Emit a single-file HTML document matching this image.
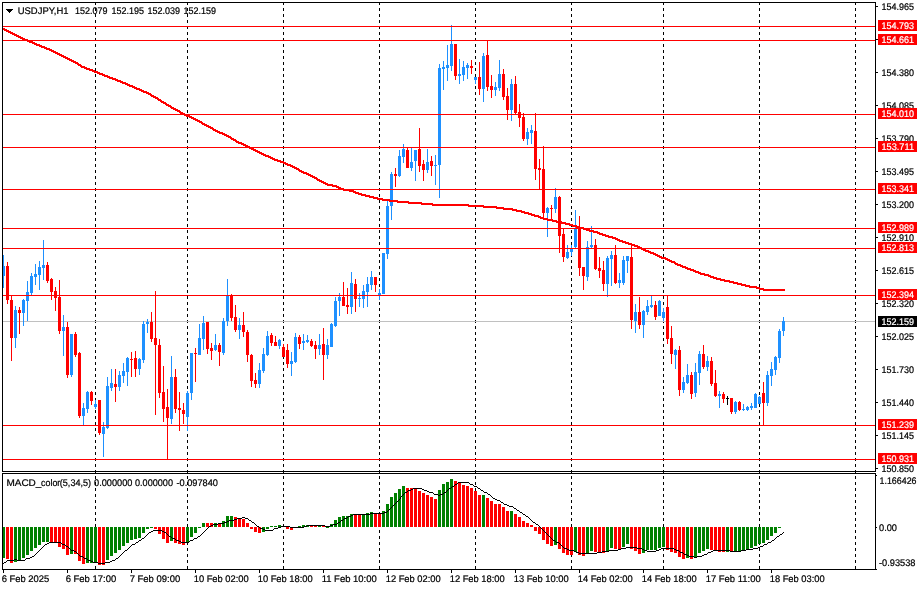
<!DOCTYPE html>
<html><head><meta charset="utf-8"><title>USDJPY,H1</title>
<style>
html,body{margin:0;padding:0;background:#fff;}
body{width:921px;height:590px;overflow:hidden;}
svg{display:block;}
.w{fill:#fff;stroke:#fff !important;}
.t{font-family:"Liberation Sans",sans-serif;font-size:9.6px;stroke:#000;stroke-width:0.22px;text-rendering:geometricPrecision;}
</style></head><body>
<svg width="921" height="590" viewBox="0 0 921 590" shape-rendering="crispEdges">
<rect width="921" height="590" fill="#fff"/>
<g stroke="#000" stroke-width="1" stroke-dasharray="3 3" fill="none">
<line x1="95.5" y1="2" x2="95.5" y2="570"/>
<line x1="187.5" y1="2" x2="187.5" y2="570"/>
<line x1="283.5" y1="2" x2="283.5" y2="570"/>
<line x1="379.5" y1="2" x2="379.5" y2="570"/>
<line x1="475.5" y1="2" x2="475.5" y2="570"/>
<line x1="571.5" y1="2" x2="571.5" y2="570"/>
<line x1="663.5" y1="2" x2="663.5" y2="570"/>
<line x1="759.5" y1="2" x2="759.5" y2="570"/>
<line x1="855.5" y1="2" x2="855.5" y2="570"/>
</g>
<rect x="3" y="321" width="873" height="1" fill="#C0C0C0"/>
<clipPath id="c"><rect x="3" y="3" width="872" height="468"/></clipPath>
<g clip-path="url(#c)">
<rect x="3" y="255" width="1" height="33" fill="#1E90FF"/>
<rect x="2" y="266" width="3" height="10" fill="#1E90FF"/>
<rect x="7" y="262" width="1" height="42" fill="#FF0000"/>
<rect x="6" y="266" width="3" height="34" fill="#FF0000"/>
<rect x="11" y="295" width="1" height="66" fill="#FF0000"/>
<rect x="10" y="300" width="3" height="38" fill="#FF0000"/>
<rect x="15" y="306" width="1" height="42" fill="#1E90FF"/>
<rect x="14" y="310" width="3" height="28" fill="#1E90FF"/>
<rect x="19" y="307" width="1" height="27" fill="#FF0000"/>
<rect x="18" y="310" width="3" height="3" fill="#FF0000"/>
<rect x="23" y="299" width="1" height="27" fill="#1E90FF"/>
<rect x="22" y="300" width="3" height="13" fill="#1E90FF"/>
<rect x="27" y="281" width="1" height="40" fill="#1E90FF"/>
<rect x="26" y="292" width="3" height="9" fill="#1E90FF"/>
<rect x="31" y="273" width="1" height="22" fill="#1E90FF"/>
<rect x="30" y="276" width="3" height="17" fill="#1E90FF"/>
<rect x="35" y="264" width="1" height="21" fill="#1E90FF"/>
<rect x="34" y="274" width="3" height="3" fill="#1E90FF"/>
<rect x="39" y="261" width="1" height="29" fill="#1E90FF"/>
<rect x="38" y="267" width="3" height="8" fill="#1E90FF"/>
<rect x="43" y="240" width="1" height="40" fill="#1E90FF"/>
<rect x="42" y="265" width="3" height="3" fill="#1E90FF"/>
<rect x="47" y="262" width="1" height="21" fill="#FF0000"/>
<rect x="46" y="265" width="3" height="16" fill="#FF0000"/>
<rect x="51" y="278" width="1" height="22" fill="#FF0000"/>
<rect x="50" y="279" width="3" height="13" fill="#FF0000"/>
<rect x="55" y="287" width="1" height="24" fill="#FF0000"/>
<rect x="54" y="291" width="3" height="7" fill="#FF0000"/>
<rect x="59" y="280" width="1" height="54" fill="#FF0000"/>
<rect x="58" y="297" width="3" height="34" fill="#FF0000"/>
<rect x="63" y="315" width="1" height="41" fill="#1E90FF"/>
<rect x="62" y="327" width="3" height="4" fill="#1E90FF"/>
<rect x="67" y="322" width="1" height="56" fill="#FF0000"/>
<rect x="66" y="327" width="3" height="48" fill="#FF0000"/>
<rect x="71" y="334" width="1" height="43" fill="#1E90FF"/>
<rect x="70" y="334" width="3" height="41" fill="#1E90FF"/>
<rect x="75" y="332" width="1" height="25" fill="#FF0000"/>
<rect x="74" y="334" width="3" height="21" fill="#FF0000"/>
<rect x="79" y="352" width="1" height="66" fill="#FF0000"/>
<rect x="78" y="353" width="3" height="63" fill="#FF0000"/>
<rect x="83" y="403" width="1" height="23" fill="#1E90FF"/>
<rect x="82" y="408" width="3" height="8" fill="#1E90FF"/>
<rect x="87" y="391" width="1" height="22" fill="#1E90FF"/>
<rect x="86" y="392" width="3" height="17" fill="#1E90FF"/>
<rect x="91" y="391" width="1" height="14" fill="#FF0000"/>
<rect x="90" y="392" width="3" height="9" fill="#FF0000"/>
<rect x="95" y="400" width="1" height="9" fill="#1E90FF"/>
<rect x="94" y="404" width="3" height="3" fill="#1E90FF"/>
<rect x="99" y="400" width="1" height="35" fill="#FF0000"/>
<rect x="98" y="400" width="3" height="33" fill="#FF0000"/>
<rect x="103" y="422" width="1" height="35" fill="#1E90FF"/>
<rect x="102" y="427" width="3" height="7" fill="#1E90FF"/>
<rect x="107" y="377" width="1" height="52" fill="#1E90FF"/>
<rect x="106" y="386" width="3" height="42" fill="#1E90FF"/>
<rect x="111" y="369" width="1" height="22" fill="#1E90FF"/>
<rect x="110" y="383" width="3" height="5" fill="#1E90FF"/>
<rect x="115" y="369" width="1" height="33" fill="#FF0000"/>
<rect x="114" y="384" width="3" height="3" fill="#FF0000"/>
<rect x="119" y="371" width="1" height="20" fill="#1E90FF"/>
<rect x="118" y="375" width="3" height="12" fill="#1E90FF"/>
<rect x="123" y="363" width="1" height="20" fill="#1E90FF"/>
<rect x="122" y="371" width="3" height="5" fill="#1E90FF"/>
<rect x="127" y="357" width="1" height="29" fill="#1E90FF"/>
<rect x="126" y="358" width="3" height="14" fill="#1E90FF"/>
<rect x="131" y="352" width="1" height="25" fill="#FF0000"/>
<rect x="130" y="359" width="3" height="1" fill="#FF0000"/>
<rect x="135" y="351" width="1" height="26" fill="#FF0000"/>
<rect x="134" y="358" width="3" height="11" fill="#FF0000"/>
<rect x="139" y="358" width="1" height="17" fill="#1E90FF"/>
<rect x="138" y="359" width="3" height="10" fill="#1E90FF"/>
<rect x="143" y="321" width="1" height="42" fill="#1E90FF"/>
<rect x="142" y="324" width="3" height="36" fill="#1E90FF"/>
<rect x="147" y="319" width="1" height="14" fill="#1E90FF"/>
<rect x="146" y="322" width="3" height="2" fill="#1E90FF"/>
<rect x="151" y="312" width="1" height="30" fill="#FF0000"/>
<rect x="150" y="322" width="3" height="17" fill="#FF0000"/>
<rect x="155" y="291" width="1" height="124" fill="#FF0000"/>
<rect x="154" y="338" width="3" height="7" fill="#FF0000"/>
<rect x="159" y="339" width="1" height="59" fill="#FF0000"/>
<rect x="158" y="345" width="3" height="48" fill="#FF0000"/>
<rect x="163" y="366" width="1" height="56" fill="#FF0000"/>
<rect x="162" y="392" width="3" height="17" fill="#FF0000"/>
<rect x="167" y="389" width="1" height="71" fill="#FF0000"/>
<rect x="166" y="407" width="3" height="11" fill="#FF0000"/>
<rect x="171" y="356" width="1" height="68" fill="#1E90FF"/>
<rect x="170" y="377" width="3" height="42" fill="#1E90FF"/>
<rect x="175" y="369" width="1" height="44" fill="#FF0000"/>
<rect x="174" y="377" width="3" height="32" fill="#FF0000"/>
<rect x="179" y="392" width="1" height="39" fill="#FF0000"/>
<rect x="178" y="408" width="3" height="2" fill="#FF0000"/>
<rect x="183" y="403" width="1" height="21" fill="#FF0000"/>
<rect x="182" y="410" width="3" height="4" fill="#FF0000"/>
<rect x="187" y="391" width="1" height="40" fill="#1E90FF"/>
<rect x="186" y="393" width="3" height="24" fill="#1E90FF"/>
<rect x="191" y="353" width="1" height="47" fill="#1E90FF"/>
<rect x="190" y="353" width="3" height="40" fill="#1E90FF"/>
<rect x="195" y="348" width="1" height="34" fill="#FF0000"/>
<rect x="194" y="353" width="3" height="1" fill="#FF0000"/>
<rect x="199" y="324" width="1" height="31" fill="#1E90FF"/>
<rect x="198" y="338" width="3" height="17" fill="#1E90FF"/>
<rect x="203" y="316" width="1" height="34" fill="#1E90FF"/>
<rect x="202" y="323" width="3" height="16" fill="#1E90FF"/>
<rect x="207" y="322" width="1" height="32" fill="#FF0000"/>
<rect x="206" y="322" width="3" height="27" fill="#FF0000"/>
<rect x="211" y="343" width="1" height="17" fill="#FF0000"/>
<rect x="210" y="348" width="3" height="3" fill="#FF0000"/>
<rect x="215" y="334" width="1" height="17" fill="#1E90FF"/>
<rect x="214" y="345" width="3" height="5" fill="#1E90FF"/>
<rect x="219" y="343" width="1" height="23" fill="#FF0000"/>
<rect x="218" y="345" width="3" height="7" fill="#FF0000"/>
<rect x="223" y="318" width="1" height="37" fill="#1E90FF"/>
<rect x="222" y="321" width="3" height="32" fill="#1E90FF"/>
<rect x="227" y="279" width="1" height="47" fill="#1E90FF"/>
<rect x="226" y="295" width="3" height="26" fill="#1E90FF"/>
<rect x="231" y="294" width="1" height="27" fill="#FF0000"/>
<rect x="230" y="295" width="3" height="23" fill="#FF0000"/>
<rect x="235" y="305" width="1" height="27" fill="#FF0000"/>
<rect x="234" y="317" width="3" height="13" fill="#FF0000"/>
<rect x="239" y="318" width="1" height="21" fill="#1E90FF"/>
<rect x="238" y="325" width="3" height="5" fill="#1E90FF"/>
<rect x="243" y="312" width="1" height="25" fill="#FF0000"/>
<rect x="242" y="325" width="3" height="7" fill="#FF0000"/>
<rect x="247" y="330" width="1" height="32" fill="#FF0000"/>
<rect x="246" y="332" width="3" height="23" fill="#FF0000"/>
<rect x="251" y="354" width="1" height="33" fill="#FF0000"/>
<rect x="250" y="355" width="3" height="26" fill="#FF0000"/>
<rect x="255" y="373" width="1" height="15" fill="#FF0000"/>
<rect x="254" y="380" width="3" height="4" fill="#FF0000"/>
<rect x="259" y="363" width="1" height="25" fill="#1E90FF"/>
<rect x="258" y="370" width="3" height="14" fill="#1E90FF"/>
<rect x="263" y="348" width="1" height="25" fill="#1E90FF"/>
<rect x="262" y="354" width="3" height="17" fill="#1E90FF"/>
<rect x="267" y="331" width="1" height="25" fill="#1E90FF"/>
<rect x="266" y="336" width="3" height="19" fill="#1E90FF"/>
<rect x="271" y="333" width="1" height="13" fill="#FF0000"/>
<rect x="270" y="335" width="3" height="8" fill="#FF0000"/>
<rect x="275" y="336" width="1" height="10" fill="#FF0000"/>
<rect x="274" y="342" width="3" height="4" fill="#FF0000"/>
<rect x="279" y="339" width="1" height="10" fill="#1E90FF"/>
<rect x="278" y="340" width="3" height="6" fill="#1E90FF"/>
<rect x="283" y="344" width="1" height="13" fill="#FF0000"/>
<rect x="282" y="347" width="3" height="10" fill="#FF0000"/>
<rect x="287" y="344" width="1" height="24" fill="#FF0000"/>
<rect x="286" y="350" width="3" height="14" fill="#FF0000"/>
<rect x="291" y="352" width="1" height="24" fill="#1E90FF"/>
<rect x="290" y="361" width="3" height="3" fill="#1E90FF"/>
<rect x="295" y="333" width="1" height="30" fill="#1E90FF"/>
<rect x="294" y="337" width="3" height="25" fill="#1E90FF"/>
<rect x="299" y="335" width="1" height="14" fill="#FF0000"/>
<rect x="298" y="337" width="3" height="7" fill="#FF0000"/>
<rect x="303" y="334" width="1" height="16" fill="#1E90FF"/>
<rect x="302" y="341" width="3" height="2" fill="#1E90FF"/>
<rect x="307" y="335" width="1" height="8" fill="#1E90FF"/>
<rect x="306" y="340" width="3" height="2" fill="#1E90FF"/>
<rect x="311" y="339" width="1" height="8" fill="#FF0000"/>
<rect x="310" y="341" width="3" height="5" fill="#FF0000"/>
<rect x="315" y="341" width="1" height="18" fill="#FF0000"/>
<rect x="314" y="345" width="3" height="4" fill="#FF0000"/>
<rect x="319" y="334" width="1" height="21" fill="#1E90FF"/>
<rect x="318" y="345" width="3" height="4" fill="#1E90FF"/>
<rect x="323" y="328" width="1" height="52" fill="#FF0000"/>
<rect x="322" y="344" width="3" height="11" fill="#FF0000"/>
<rect x="327" y="339" width="1" height="20" fill="#1E90FF"/>
<rect x="326" y="345" width="3" height="10" fill="#1E90FF"/>
<rect x="331" y="323" width="1" height="24" fill="#1E90FF"/>
<rect x="330" y="324" width="3" height="23" fill="#1E90FF"/>
<rect x="335" y="297" width="1" height="30" fill="#1E90FF"/>
<rect x="334" y="301" width="3" height="25" fill="#1E90FF"/>
<rect x="339" y="293" width="1" height="23" fill="#1E90FF"/>
<rect x="338" y="297" width="3" height="4" fill="#1E90FF"/>
<rect x="343" y="282" width="1" height="24" fill="#FF0000"/>
<rect x="342" y="297" width="3" height="9" fill="#FF0000"/>
<rect x="347" y="288" width="1" height="26" fill="#FF0000"/>
<rect x="346" y="305" width="3" height="2" fill="#FF0000"/>
<rect x="351" y="272" width="1" height="42" fill="#1E90FF"/>
<rect x="350" y="283" width="3" height="24" fill="#1E90FF"/>
<rect x="355" y="279" width="1" height="33" fill="#FF0000"/>
<rect x="354" y="284" width="3" height="15" fill="#FF0000"/>
<rect x="359" y="293" width="1" height="14" fill="#1E90FF"/>
<rect x="358" y="298" width="3" height="1" fill="#1E90FF"/>
<rect x="363" y="285" width="1" height="23" fill="#1E90FF"/>
<rect x="362" y="291" width="3" height="8" fill="#1E90FF"/>
<rect x="367" y="277" width="1" height="30" fill="#1E90FF"/>
<rect x="366" y="284" width="3" height="8" fill="#1E90FF"/>
<rect x="371" y="271" width="1" height="19" fill="#1E90FF"/>
<rect x="370" y="277" width="3" height="8" fill="#1E90FF"/>
<rect x="375" y="277" width="1" height="15" fill="#FF0000"/>
<rect x="374" y="277" width="3" height="8" fill="#FF0000"/>
<rect x="379" y="289" width="1" height="11" fill="#1E90FF"/>
<rect x="378" y="293" width="3" height="3" fill="#1E90FF"/>
<rect x="383" y="253" width="1" height="41" fill="#1E90FF"/>
<rect x="382" y="253" width="3" height="41" fill="#1E90FF"/>
<rect x="387" y="201" width="1" height="58" fill="#1E90FF"/>
<rect x="386" y="206" width="3" height="48" fill="#1E90FF"/>
<rect x="391" y="172" width="1" height="48" fill="#1E90FF"/>
<rect x="390" y="174" width="3" height="32" fill="#1E90FF"/>
<rect x="395" y="168" width="1" height="19" fill="#FF0000"/>
<rect x="394" y="174" width="3" height="2" fill="#FF0000"/>
<rect x="399" y="150" width="1" height="27" fill="#1E90FF"/>
<rect x="398" y="156" width="3" height="20" fill="#1E90FF"/>
<rect x="403" y="144" width="1" height="19" fill="#1E90FF"/>
<rect x="402" y="149" width="3" height="8" fill="#1E90FF"/>
<rect x="407" y="147" width="1" height="21" fill="#FF0000"/>
<rect x="406" y="150" width="3" height="18" fill="#FF0000"/>
<rect x="411" y="147" width="1" height="24" fill="#1E90FF"/>
<rect x="410" y="162" width="3" height="6" fill="#1E90FF"/>
<rect x="415" y="150" width="1" height="31" fill="#1E90FF"/>
<rect x="414" y="150" width="3" height="11" fill="#1E90FF"/>
<rect x="419" y="128" width="1" height="44" fill="#FF0000"/>
<rect x="418" y="149" width="3" height="17" fill="#FF0000"/>
<rect x="423" y="160" width="1" height="21" fill="#FF0000"/>
<rect x="422" y="164" width="3" height="6" fill="#FF0000"/>
<rect x="427" y="149" width="1" height="24" fill="#1E90FF"/>
<rect x="426" y="162" width="3" height="8" fill="#1E90FF"/>
<rect x="431" y="156" width="1" height="20" fill="#FF0000"/>
<rect x="430" y="161" width="3" height="5" fill="#FF0000"/>
<rect x="435" y="155" width="1" height="30" fill="#1E90FF"/>
<rect x="434" y="165" width="3" height="1" fill="#1E90FF"/>
<rect x="439" y="64" width="1" height="134" fill="#1E90FF"/>
<rect x="438" y="68" width="3" height="97" fill="#1E90FF"/>
<rect x="443" y="61" width="1" height="29" fill="#1E90FF"/>
<rect x="442" y="67" width="3" height="2" fill="#1E90FF"/>
<rect x="447" y="45" width="1" height="36" fill="#1E90FF"/>
<rect x="446" y="65" width="3" height="3" fill="#1E90FF"/>
<rect x="451" y="25" width="1" height="46" fill="#1E90FF"/>
<rect x="450" y="44" width="3" height="22" fill="#1E90FF"/>
<rect x="455" y="44" width="1" height="36" fill="#FF0000"/>
<rect x="454" y="44" width="3" height="32" fill="#FF0000"/>
<rect x="459" y="59" width="1" height="25" fill="#1E90FF"/>
<rect x="458" y="74" width="3" height="2" fill="#1E90FF"/>
<rect x="463" y="61" width="1" height="20" fill="#1E90FF"/>
<rect x="462" y="67" width="3" height="8" fill="#1E90FF"/>
<rect x="467" y="63" width="1" height="16" fill="#1E90FF"/>
<rect x="466" y="65" width="3" height="3" fill="#1E90FF"/>
<rect x="471" y="60" width="1" height="14" fill="#FF0000"/>
<rect x="470" y="66" width="3" height="2" fill="#FF0000"/>
<rect x="475" y="77" width="1" height="7" fill="#1E90FF"/>
<rect x="474" y="77" width="3" height="3" fill="#1E90FF"/>
<rect x="479" y="62" width="1" height="33" fill="#FF0000"/>
<rect x="478" y="77" width="3" height="12" fill="#FF0000"/>
<rect x="483" y="53" width="1" height="49" fill="#1E90FF"/>
<rect x="482" y="56" width="3" height="33" fill="#1E90FF"/>
<rect x="487" y="40" width="1" height="51" fill="#FF0000"/>
<rect x="486" y="55" width="3" height="32" fill="#FF0000"/>
<rect x="491" y="75" width="1" height="23" fill="#FF0000"/>
<rect x="490" y="86" width="3" height="4" fill="#FF0000"/>
<rect x="495" y="82" width="1" height="14" fill="#1E90FF"/>
<rect x="494" y="87" width="3" height="3" fill="#1E90FF"/>
<rect x="499" y="60" width="1" height="31" fill="#1E90FF"/>
<rect x="498" y="74" width="3" height="14" fill="#1E90FF"/>
<rect x="503" y="69" width="1" height="31" fill="#FF0000"/>
<rect x="502" y="74" width="3" height="23" fill="#FF0000"/>
<rect x="507" y="88" width="1" height="32" fill="#FF0000"/>
<rect x="506" y="96" width="3" height="14" fill="#FF0000"/>
<rect x="511" y="79" width="1" height="42" fill="#1E90FF"/>
<rect x="510" y="84" width="3" height="26" fill="#1E90FF"/>
<rect x="515" y="76" width="1" height="39" fill="#FF0000"/>
<rect x="514" y="84" width="3" height="29" fill="#FF0000"/>
<rect x="519" y="104" width="1" height="23" fill="#FF0000"/>
<rect x="518" y="112" width="3" height="6" fill="#FF0000"/>
<rect x="523" y="113" width="1" height="28" fill="#FF0000"/>
<rect x="522" y="117" width="3" height="22" fill="#FF0000"/>
<rect x="527" y="128" width="1" height="17" fill="#1E90FF"/>
<rect x="526" y="132" width="3" height="7" fill="#1E90FF"/>
<rect x="531" y="125" width="1" height="19" fill="#1E90FF"/>
<rect x="530" y="130" width="3" height="3" fill="#1E90FF"/>
<rect x="535" y="113" width="1" height="67" fill="#FF0000"/>
<rect x="534" y="131" width="3" height="38" fill="#FF0000"/>
<rect x="539" y="159" width="1" height="31" fill="#FF0000"/>
<rect x="538" y="168" width="3" height="2" fill="#FF0000"/>
<rect x="543" y="146" width="1" height="72" fill="#FF0000"/>
<rect x="542" y="169" width="3" height="44" fill="#FF0000"/>
<rect x="547" y="207" width="1" height="30" fill="#1E90FF"/>
<rect x="546" y="208" width="3" height="5" fill="#1E90FF"/>
<rect x="551" y="205" width="1" height="15" fill="#FF0000"/>
<rect x="550" y="208" width="3" height="1" fill="#FF0000"/>
<rect x="555" y="188" width="1" height="25" fill="#1E90FF"/>
<rect x="554" y="197" width="3" height="12" fill="#1E90FF"/>
<rect x="559" y="196" width="1" height="57" fill="#FF0000"/>
<rect x="558" y="197" width="3" height="39" fill="#FF0000"/>
<rect x="563" y="229" width="1" height="33" fill="#FF0000"/>
<rect x="562" y="234" width="3" height="23" fill="#FF0000"/>
<rect x="567" y="245" width="1" height="14" fill="#1E90FF"/>
<rect x="566" y="252" width="3" height="6" fill="#1E90FF"/>
<rect x="571" y="245" width="1" height="11" fill="#1E90FF"/>
<rect x="570" y="249" width="3" height="3" fill="#1E90FF"/>
<rect x="575" y="210" width="1" height="39" fill="#1E90FF"/>
<rect x="574" y="228" width="3" height="19" fill="#1E90FF"/>
<rect x="579" y="216" width="1" height="60" fill="#FF0000"/>
<rect x="578" y="227" width="3" height="41" fill="#FF0000"/>
<rect x="583" y="267" width="1" height="23" fill="#FF0000"/>
<rect x="582" y="267" width="3" height="9" fill="#FF0000"/>
<rect x="587" y="241" width="1" height="40" fill="#1E90FF"/>
<rect x="586" y="247" width="3" height="30" fill="#1E90FF"/>
<rect x="591" y="226" width="1" height="23" fill="#1E90FF"/>
<rect x="590" y="245" width="3" height="2" fill="#1E90FF"/>
<rect x="595" y="239" width="1" height="31" fill="#FF0000"/>
<rect x="594" y="245" width="3" height="24" fill="#FF0000"/>
<rect x="599" y="257" width="1" height="21" fill="#FF0000"/>
<rect x="598" y="268" width="3" height="3" fill="#FF0000"/>
<rect x="603" y="261" width="1" height="30" fill="#FF0000"/>
<rect x="602" y="270" width="3" height="14" fill="#FF0000"/>
<rect x="607" y="256" width="1" height="41" fill="#1E90FF"/>
<rect x="606" y="258" width="3" height="26" fill="#1E90FF"/>
<rect x="611" y="251" width="1" height="35" fill="#1E90FF"/>
<rect x="610" y="255" width="3" height="4" fill="#1E90FF"/>
<rect x="615" y="245" width="1" height="39" fill="#FF0000"/>
<rect x="614" y="255" width="3" height="28" fill="#FF0000"/>
<rect x="619" y="273" width="1" height="15" fill="#1E90FF"/>
<rect x="618" y="280" width="3" height="3" fill="#1E90FF"/>
<rect x="623" y="256" width="1" height="29" fill="#1E90FF"/>
<rect x="622" y="260" width="3" height="23" fill="#1E90FF"/>
<rect x="627" y="256" width="1" height="17" fill="#1E90FF"/>
<rect x="626" y="256" width="3" height="5" fill="#1E90FF"/>
<rect x="631" y="246" width="1" height="83" fill="#FF0000"/>
<rect x="630" y="257" width="3" height="63" fill="#FF0000"/>
<rect x="635" y="304" width="1" height="29" fill="#1E90FF"/>
<rect x="634" y="312" width="3" height="9" fill="#1E90FF"/>
<rect x="639" y="297" width="1" height="32" fill="#FF0000"/>
<rect x="638" y="312" width="3" height="13" fill="#FF0000"/>
<rect x="643" y="310" width="1" height="28" fill="#1E90FF"/>
<rect x="642" y="311" width="3" height="14" fill="#1E90FF"/>
<rect x="647" y="300" width="1" height="15" fill="#1E90FF"/>
<rect x="646" y="306" width="3" height="6" fill="#1E90FF"/>
<rect x="651" y="295" width="1" height="13" fill="#1E90FF"/>
<rect x="650" y="305" width="3" height="2" fill="#1E90FF"/>
<rect x="655" y="301" width="1" height="19" fill="#FF0000"/>
<rect x="654" y="305" width="3" height="12" fill="#FF0000"/>
<rect x="659" y="300" width="1" height="16" fill="#1E90FF"/>
<rect x="658" y="301" width="3" height="15" fill="#1E90FF"/>
<rect x="663" y="308" width="1" height="13" fill="#1E90FF"/>
<rect x="662" y="312" width="3" height="6" fill="#1E90FF"/>
<rect x="667" y="296" width="1" height="48" fill="#FF0000"/>
<rect x="666" y="307" width="3" height="32" fill="#FF0000"/>
<rect x="671" y="326" width="1" height="38" fill="#FF0000"/>
<rect x="670" y="338" width="3" height="16" fill="#FF0000"/>
<rect x="675" y="349" width="1" height="20" fill="#1E90FF"/>
<rect x="674" y="350" width="3" height="5" fill="#1E90FF"/>
<rect x="679" y="346" width="1" height="50" fill="#FF0000"/>
<rect x="678" y="350" width="3" height="40" fill="#FF0000"/>
<rect x="683" y="377" width="1" height="16" fill="#1E90FF"/>
<rect x="682" y="382" width="3" height="8" fill="#1E90FF"/>
<rect x="687" y="364" width="1" height="20" fill="#1E90FF"/>
<rect x="686" y="375" width="3" height="8" fill="#1E90FF"/>
<rect x="691" y="372" width="1" height="27" fill="#FF0000"/>
<rect x="690" y="375" width="3" height="19" fill="#FF0000"/>
<rect x="695" y="363" width="1" height="34" fill="#1E90FF"/>
<rect x="694" y="372" width="3" height="21" fill="#1E90FF"/>
<rect x="699" y="351" width="1" height="34" fill="#1E90FF"/>
<rect x="698" y="354" width="3" height="19" fill="#1E90FF"/>
<rect x="703" y="345" width="1" height="24" fill="#FF0000"/>
<rect x="702" y="354" width="3" height="13" fill="#FF0000"/>
<rect x="707" y="356" width="1" height="15" fill="#1E90FF"/>
<rect x="706" y="361" width="3" height="6" fill="#1E90FF"/>
<rect x="711" y="357" width="1" height="29" fill="#FF0000"/>
<rect x="710" y="361" width="3" height="23" fill="#FF0000"/>
<rect x="715" y="370" width="1" height="27" fill="#FF0000"/>
<rect x="714" y="383" width="3" height="13" fill="#FF0000"/>
<rect x="719" y="391" width="1" height="17" fill="#1E90FF"/>
<rect x="718" y="394" width="3" height="2" fill="#1E90FF"/>
<rect x="723" y="392" width="1" height="11" fill="#FF0000"/>
<rect x="722" y="394" width="3" height="5" fill="#FF0000"/>
<rect x="727" y="396" width="1" height="9" fill="#000"/>
<rect x="726" y="398" width="3" height="1" fill="#000"/>
<rect x="731" y="398" width="1" height="16" fill="#FF0000"/>
<rect x="730" y="398" width="3" height="14" fill="#FF0000"/>
<rect x="735" y="401" width="1" height="13" fill="#1E90FF"/>
<rect x="734" y="402" width="3" height="10" fill="#1E90FF"/>
<rect x="739" y="401" width="1" height="10" fill="#FF0000"/>
<rect x="738" y="402" width="3" height="8" fill="#FF0000"/>
<rect x="743" y="404" width="1" height="7" fill="#1E90FF"/>
<rect x="742" y="409" width="3" height="1" fill="#1E90FF"/>
<rect x="747" y="406" width="1" height="5" fill="#1E90FF"/>
<rect x="746" y="407" width="3" height="3" fill="#1E90FF"/>
<rect x="751" y="403" width="1" height="7" fill="#1E90FF"/>
<rect x="750" y="406" width="3" height="2" fill="#1E90FF"/>
<rect x="755" y="393" width="1" height="15" fill="#1E90FF"/>
<rect x="754" y="394" width="3" height="14" fill="#1E90FF"/>
<rect x="759" y="396" width="1" height="8" fill="#1E90FF"/>
<rect x="758" y="397" width="3" height="7" fill="#1E90FF"/>
<rect x="763" y="382" width="1" height="44" fill="#FF0000"/>
<rect x="762" y="393" width="3" height="10" fill="#FF0000"/>
<rect x="767" y="371" width="1" height="35" fill="#1E90FF"/>
<rect x="766" y="375" width="3" height="28" fill="#1E90FF"/>
<rect x="771" y="362" width="1" height="24" fill="#1E90FF"/>
<rect x="770" y="369" width="3" height="7" fill="#1E90FF"/>
<rect x="775" y="356" width="1" height="19" fill="#1E90FF"/>
<rect x="774" y="357" width="3" height="13" fill="#1E90FF"/>
<rect x="779" y="329" width="1" height="34" fill="#1E90FF"/>
<rect x="778" y="331" width="3" height="27" fill="#1E90FF"/>
<rect x="783" y="317" width="1" height="19" fill="#1E90FF"/>
<rect x="782" y="321" width="3" height="10" fill="#1E90FF"/>
</g>
<clipPath id="d"><rect x="3" y="474" width="872" height="95"/></clipPath>
<g clip-path="url(#d)">
<rect x="2" y="527" width="3" height="31" fill="#008000"/>
<rect x="6" y="527" width="3" height="32" fill="#FF0000"/>
<rect x="10" y="527" width="3" height="36" fill="#FF0000"/>
<rect x="14" y="527" width="3" height="35" fill="#008000"/>
<rect x="18" y="527" width="3" height="34" fill="#008000"/>
<rect x="22" y="527" width="3" height="31" fill="#008000"/>
<rect x="26" y="527" width="3" height="28" fill="#008000"/>
<rect x="30" y="527" width="3" height="24" fill="#008000"/>
<rect x="34" y="527" width="3" height="21" fill="#008000"/>
<rect x="38" y="527" width="3" height="18" fill="#008000"/>
<rect x="42" y="527" width="3" height="15" fill="#008000"/>
<rect x="46" y="527" width="3" height="15" fill="#008000"/>
<rect x="50" y="527" width="3" height="15" fill="#FF0000"/>
<rect x="54" y="527" width="3" height="16" fill="#FF0000"/>
<rect x="58" y="527" width="3" height="20" fill="#FF0000"/>
<rect x="62" y="527" width="3" height="22" fill="#FF0000"/>
<rect x="66" y="527" width="3" height="28" fill="#FF0000"/>
<rect x="70" y="527" width="3" height="27" fill="#008000"/>
<rect x="74" y="527" width="3" height="27" fill="#FF0000"/>
<rect x="78" y="527" width="3" height="34" fill="#FF0000"/>
<rect x="82" y="527" width="3" height="37" fill="#FF0000"/>
<rect x="86" y="527" width="3" height="36" fill="#008000"/>
<rect x="90" y="527" width="3" height="36" fill="#008000"/>
<rect x="94" y="527" width="3" height="36" fill="#008000"/>
<rect x="98" y="527" width="3" height="38" fill="#FF0000"/>
<rect x="102" y="527" width="3" height="38" fill="#FF0000"/>
<rect x="106" y="527" width="3" height="33" fill="#008000"/>
<rect x="110" y="527" width="3" height="29" fill="#008000"/>
<rect x="114" y="527" width="3" height="26" fill="#008000"/>
<rect x="118" y="527" width="3" height="23" fill="#008000"/>
<rect x="122" y="527" width="3" height="19" fill="#008000"/>
<rect x="126" y="527" width="3" height="16" fill="#008000"/>
<rect x="130" y="527" width="3" height="13" fill="#008000"/>
<rect x="134" y="527" width="3" height="12" fill="#008000"/>
<rect x="138" y="527" width="3" height="11" fill="#008000"/>
<rect x="142" y="527" width="3" height="6" fill="#008000"/>
<rect x="146" y="527" width="3" height="2" fill="#008000"/>
<rect x="150" y="527" width="3" height="1" fill="#008000"/>
<rect x="154" y="527" width="3" height="2" fill="#FF0000"/>
<rect x="158" y="527" width="3" height="7" fill="#FF0000"/>
<rect x="162" y="527" width="3" height="12" fill="#FF0000"/>
<rect x="166" y="527" width="3" height="16" fill="#FF0000"/>
<rect x="170" y="527" width="3" height="14" fill="#008000"/>
<rect x="174" y="527" width="3" height="16" fill="#FF0000"/>
<rect x="178" y="527" width="3" height="17" fill="#FF0000"/>
<rect x="182" y="527" width="3" height="18" fill="#FF0000"/>
<rect x="186" y="527" width="3" height="16" fill="#008000"/>
<rect x="190" y="527" width="3" height="10" fill="#008000"/>
<rect x="194" y="527" width="3" height="6" fill="#008000"/>
<rect x="198" y="527" width="3" height="1" fill="#008000"/>
<rect x="202" y="523" width="3" height="4" fill="#008000"/>
<rect x="206" y="523" width="3" height="4" fill="#FF0000"/>
<rect x="210" y="523" width="3" height="4" fill="#FF0000"/>
<rect x="214" y="523" width="3" height="4" fill="#008000"/>
<rect x="218" y="524" width="3" height="3" fill="#FF0000"/>
<rect x="222" y="521" width="3" height="6" fill="#008000"/>
<rect x="226" y="516" width="3" height="11" fill="#008000"/>
<rect x="230" y="516" width="3" height="11" fill="#008000"/>
<rect x="234" y="517" width="3" height="10" fill="#FF0000"/>
<rect x="238" y="519" width="3" height="8" fill="#FF0000"/>
<rect x="242" y="519" width="3" height="8" fill="#FF0000"/>
<rect x="246" y="523" width="3" height="4" fill="#FF0000"/>
<rect x="250" y="527" width="3" height="2" fill="#FF0000"/>
<rect x="254" y="527" width="3" height="5" fill="#FF0000"/>
<rect x="258" y="527" width="3" height="6" fill="#FF0000"/>
<rect x="262" y="527" width="3" height="5" fill="#008000"/>
<rect x="266" y="527" width="3" height="2" fill="#008000"/>
<rect x="270" y="526" width="3" height="1" fill="#008000"/>
<rect x="274" y="526" width="3" height="1" fill="#008000"/>
<rect x="278" y="525" width="3" height="2" fill="#008000"/>
<rect x="282" y="526" width="3" height="1" fill="#008000"/>
<rect x="286" y="527" width="3" height="2" fill="#FF0000"/>
<rect x="290" y="527" width="3" height="3" fill="#FF0000"/>
<rect x="294" y="527" width="3" height="1" fill="#008000"/>
<rect x="298" y="526" width="3" height="1" fill="#008000"/>
<rect x="302" y="525" width="3" height="2" fill="#008000"/>
<rect x="306" y="525" width="3" height="2" fill="#008000"/>
<rect x="310" y="526" width="3" height="1" fill="#FF0000"/>
<rect x="314" y="526" width="3" height="1" fill="#FF0000"/>
<rect x="318" y="526" width="3" height="1" fill="#008000"/>
<rect x="322" y="526" width="3" height="1" fill="#FF0000"/>
<rect x="326" y="527" width="3" height="1" fill="#008000"/>
<rect x="330" y="524" width="3" height="3" fill="#008000"/>
<rect x="334" y="520" width="3" height="7" fill="#008000"/>
<rect x="338" y="517" width="3" height="10" fill="#008000"/>
<rect x="342" y="516" width="3" height="11" fill="#008000"/>
<rect x="346" y="516" width="3" height="11" fill="#008000"/>
<rect x="350" y="514" width="3" height="13" fill="#008000"/>
<rect x="354" y="514" width="3" height="13" fill="#FF0000"/>
<rect x="358" y="514" width="3" height="13" fill="#FF0000"/>
<rect x="362" y="514" width="3" height="13" fill="#008000"/>
<rect x="366" y="513" width="3" height="14" fill="#008000"/>
<rect x="370" y="512" width="3" height="15" fill="#008000"/>
<rect x="374" y="514" width="3" height="13" fill="#FF0000"/>
<rect x="378" y="514" width="3" height="13" fill="#FF0000"/>
<rect x="382" y="511" width="3" height="16" fill="#008000"/>
<rect x="386" y="504" width="3" height="23" fill="#008000"/>
<rect x="390" y="497" width="3" height="30" fill="#008000"/>
<rect x="394" y="493" width="3" height="34" fill="#008000"/>
<rect x="398" y="489" width="3" height="38" fill="#008000"/>
<rect x="402" y="486" width="3" height="41" fill="#008000"/>
<rect x="406" y="488" width="3" height="39" fill="#FF0000"/>
<rect x="410" y="488" width="3" height="39" fill="#FF0000"/>
<rect x="414" y="489" width="3" height="38" fill="#FF0000"/>
<rect x="418" y="491" width="3" height="36" fill="#FF0000"/>
<rect x="422" y="493" width="3" height="34" fill="#FF0000"/>
<rect x="426" y="495" width="3" height="32" fill="#FF0000"/>
<rect x="430" y="497" width="3" height="30" fill="#FF0000"/>
<rect x="434" y="499" width="3" height="28" fill="#FF0000"/>
<rect x="438" y="490" width="3" height="37" fill="#008000"/>
<rect x="442" y="484" width="3" height="43" fill="#008000"/>
<rect x="446" y="482" width="3" height="45" fill="#008000"/>
<rect x="450" y="479" width="3" height="48" fill="#008000"/>
<rect x="454" y="481" width="3" height="46" fill="#FF0000"/>
<rect x="458" y="483" width="3" height="44" fill="#FF0000"/>
<rect x="462" y="485" width="3" height="42" fill="#FF0000"/>
<rect x="466" y="486" width="3" height="41" fill="#FF0000"/>
<rect x="470" y="488" width="3" height="39" fill="#FF0000"/>
<rect x="474" y="491" width="3" height="36" fill="#FF0000"/>
<rect x="478" y="495" width="3" height="32" fill="#FF0000"/>
<rect x="482" y="495" width="3" height="32" fill="#008000"/>
<rect x="486" y="498" width="3" height="29" fill="#FF0000"/>
<rect x="490" y="501" width="3" height="26" fill="#FF0000"/>
<rect x="494" y="504" width="3" height="23" fill="#FF0000"/>
<rect x="498" y="504" width="3" height="23" fill="#FF0000"/>
<rect x="502" y="507" width="3" height="20" fill="#FF0000"/>
<rect x="506" y="511" width="3" height="16" fill="#FF0000"/>
<rect x="510" y="511" width="3" height="16" fill="#008000"/>
<rect x="514" y="514" width="3" height="13" fill="#FF0000"/>
<rect x="518" y="517" width="3" height="10" fill="#FF0000"/>
<rect x="522" y="521" width="3" height="6" fill="#FF0000"/>
<rect x="526" y="523" width="3" height="4" fill="#FF0000"/>
<rect x="530" y="525" width="3" height="2" fill="#FF0000"/>
<rect x="534" y="527" width="3" height="4" fill="#FF0000"/>
<rect x="538" y="527" width="3" height="7" fill="#FF0000"/>
<rect x="542" y="527" width="3" height="13" fill="#FF0000"/>
<rect x="546" y="527" width="3" height="17" fill="#FF0000"/>
<rect x="550" y="527" width="3" height="19" fill="#FF0000"/>
<rect x="554" y="527" width="3" height="18" fill="#008000"/>
<rect x="558" y="527" width="3" height="22" fill="#FF0000"/>
<rect x="562" y="527" width="3" height="26" fill="#FF0000"/>
<rect x="566" y="527" width="3" height="28" fill="#FF0000"/>
<rect x="570" y="527" width="3" height="28" fill="#FF0000"/>
<rect x="574" y="527" width="3" height="25" fill="#008000"/>
<rect x="578" y="527" width="3" height="28" fill="#FF0000"/>
<rect x="582" y="527" width="3" height="29" fill="#FF0000"/>
<rect x="586" y="527" width="3" height="26" fill="#008000"/>
<rect x="590" y="527" width="3" height="24" fill="#008000"/>
<rect x="594" y="527" width="3" height="25" fill="#FF0000"/>
<rect x="598" y="527" width="3" height="25" fill="#FF0000"/>
<rect x="602" y="527" width="3" height="26" fill="#FF0000"/>
<rect x="606" y="527" width="3" height="24" fill="#008000"/>
<rect x="610" y="527" width="3" height="21" fill="#008000"/>
<rect x="614" y="527" width="3" height="22" fill="#FF0000"/>
<rect x="618" y="527" width="3" height="22" fill="#FF0000"/>
<rect x="622" y="527" width="3" height="20" fill="#008000"/>
<rect x="626" y="527" width="3" height="17" fill="#008000"/>
<rect x="630" y="527" width="3" height="22" fill="#FF0000"/>
<rect x="634" y="527" width="3" height="24" fill="#FF0000"/>
<rect x="638" y="527" width="3" height="27" fill="#FF0000"/>
<rect x="642" y="527" width="3" height="26" fill="#008000"/>
<rect x="646" y="527" width="3" height="23" fill="#008000"/>
<rect x="650" y="527" width="3" height="23" fill="#008000"/>
<rect x="654" y="527" width="3" height="23" fill="#008000"/>
<rect x="658" y="527" width="3" height="21" fill="#008000"/>
<rect x="662" y="527" width="3" height="20" fill="#008000"/>
<rect x="666" y="527" width="3" height="23" fill="#FF0000"/>
<rect x="670" y="527" width="3" height="25" fill="#FF0000"/>
<rect x="674" y="527" width="3" height="26" fill="#FF0000"/>
<rect x="678" y="527" width="3" height="30" fill="#FF0000"/>
<rect x="682" y="527" width="3" height="32" fill="#FF0000"/>
<rect x="686" y="527" width="3" height="31" fill="#008000"/>
<rect x="690" y="527" width="3" height="32" fill="#FF0000"/>
<rect x="694" y="527" width="3" height="30" fill="#008000"/>
<rect x="698" y="527" width="3" height="26" fill="#008000"/>
<rect x="702" y="527" width="3" height="24" fill="#008000"/>
<rect x="706" y="527" width="3" height="22" fill="#008000"/>
<rect x="710" y="527" width="3" height="23" fill="#FF0000"/>
<rect x="714" y="527" width="3" height="24" fill="#FF0000"/>
<rect x="718" y="527" width="3" height="25" fill="#FF0000"/>
<rect x="722" y="527" width="3" height="25" fill="#FF0000"/>
<rect x="726" y="527" width="3" height="25" fill="#008000"/>
<rect x="730" y="527" width="3" height="24" fill="#FF0000"/>
<rect x="734" y="527" width="3" height="24" fill="#008000"/>
<rect x="738" y="527" width="3" height="24" fill="#008000"/>
<rect x="742" y="527" width="3" height="23" fill="#008000"/>
<rect x="746" y="527" width="3" height="22" fill="#008000"/>
<rect x="750" y="527" width="3" height="21" fill="#008000"/>
<rect x="754" y="527" width="3" height="19" fill="#008000"/>
<rect x="758" y="527" width="3" height="17" fill="#008000"/>
<rect x="762" y="527" width="3" height="16" fill="#008000"/>
<rect x="766" y="527" width="3" height="13" fill="#008000"/>
<rect x="770" y="527" width="3" height="9" fill="#008000"/>
<rect x="774" y="527" width="3" height="6" fill="#008000"/>
<rect x="778" y="527" width="3" height="1" fill="#008000"/>
</g>
<g fill="#000"><rect x="3" y="563" width="1" height="1"/><rect x="4" y="562" width="2" height="1"/><rect x="6" y="561" width="1" height="1"/><rect x="7" y="560" width="7" height="1"/><rect x="14" y="559" width="3" height="1"/><rect x="17" y="560" width="8" height="1"/><rect x="25" y="559" width="1" height="1"/><rect x="26" y="558" width="4" height="1"/><rect x="30" y="557" width="2" height="1"/><rect x="32" y="556" width="2" height="1"/><rect x="34" y="555" width="1" height="1"/><rect x="35" y="554" width="1" height="1"/><rect x="36" y="553" width="1" height="1"/><rect x="37" y="552" width="1" height="1"/><rect x="38" y="551" width="1" height="1"/><rect x="39" y="550" width="1" height="1"/><rect x="40" y="549" width="1" height="1"/><rect x="41" y="548" width="1" height="1"/><rect x="42" y="547" width="1" height="1"/><rect x="43" y="546" width="1" height="1"/><rect x="44" y="545" width="1" height="1"/><rect x="45" y="544" width="2" height="1"/><rect x="47" y="543" width="2" height="1"/><rect x="49" y="542" width="12" height="1"/><rect x="61" y="543" width="1" height="1"/><rect x="62" y="544" width="3" height="1"/><rect x="65" y="545" width="1" height="1"/><rect x="66" y="546" width="2" height="1"/><rect x="68" y="547" width="1" height="1"/><rect x="69" y="548" width="1" height="1"/><rect x="70" y="549" width="1" height="1"/><rect x="71" y="550" width="3" height="1"/><rect x="74" y="551" width="2" height="1"/><rect x="76" y="552" width="1" height="1"/><rect x="77" y="553" width="1" height="1"/><rect x="78" y="554" width="1" height="1"/><rect x="79" y="555" width="1" height="1"/><rect x="80" y="556" width="3" height="1"/><rect x="83" y="557" width="1" height="1"/><rect x="84" y="558" width="3" height="1"/><rect x="87" y="559" width="1" height="1"/><rect x="88" y="560" width="3" height="1"/><rect x="91" y="561" width="2" height="1"/><rect x="93" y="562" width="5" height="1"/><rect x="98" y="563" width="7" height="1"/><rect x="105" y="562" width="5" height="1"/><rect x="110" y="561" width="2" height="1"/><rect x="112" y="560" width="3" height="1"/><rect x="115" y="559" width="1" height="1"/><rect x="116" y="558" width="2" height="1"/><rect x="118" y="557" width="1" height="1"/><rect x="119" y="556" width="1" height="1"/><rect x="120" y="555" width="1" height="1"/><rect x="121" y="554" width="1" height="1"/><rect x="122" y="553" width="1" height="1"/><rect x="123" y="552" width="1" height="1"/><rect x="124" y="551" width="1" height="1"/><rect x="125" y="550" width="2" height="1"/><rect x="127" y="549" width="1" height="1"/><rect x="128" y="548" width="1" height="1"/><rect x="129" y="547" width="1" height="1"/><rect x="130" y="546" width="1" height="1"/><rect x="131" y="545" width="1" height="1"/><rect x="132" y="544" width="3" height="1"/><rect x="135" y="543" width="1" height="1"/><rect x="136" y="542" width="2" height="1"/><rect x="138" y="541" width="1" height="1"/><rect x="139" y="540" width="2" height="1"/><rect x="141" y="539" width="1" height="1"/><rect x="142" y="538" width="2" height="1"/><rect x="144" y="537" width="1" height="1"/><rect x="145" y="536" width="1" height="1"/><rect x="146" y="535" width="1" height="1"/><rect x="147" y="534" width="1" height="1"/><rect x="148" y="533" width="1" height="1"/><rect x="149" y="532" width="2" height="1"/><rect x="151" y="531" width="2" height="1"/><rect x="153" y="530" width="9" height="1"/><rect x="162" y="531" width="2" height="1"/><rect x="164" y="532" width="2" height="1"/><rect x="166" y="533" width="1" height="1"/><rect x="167" y="534" width="1" height="1"/><rect x="168" y="535" width="1" height="1"/><rect x="169" y="536" width="2" height="1"/><rect x="171" y="537" width="1" height="1"/><rect x="172" y="538" width="3" height="1"/><rect x="175" y="539" width="1" height="1"/><rect x="176" y="540" width="3" height="1"/><rect x="179" y="541" width="2" height="1"/><rect x="181" y="542" width="8" height="1"/><rect x="189" y="541" width="1" height="1"/><rect x="190" y="540" width="3" height="1"/><rect x="193" y="539" width="1" height="1"/><rect x="194" y="538" width="3" height="1"/><rect x="197" y="537" width="1" height="1"/><rect x="198" y="536" width="2" height="1"/><rect x="200" y="535" width="1" height="1"/><rect x="201" y="534" width="1" height="1"/><rect x="202" y="533" width="1" height="1"/><rect x="203" y="532" width="1" height="1"/><rect x="204" y="531" width="1" height="1"/><rect x="205" y="530" width="1" height="1"/><rect x="206" y="529" width="1" height="1"/><rect x="207" y="528" width="1" height="1"/><rect x="208" y="527" width="1" height="1"/><rect x="209" y="526" width="2" height="1"/><rect x="211" y="525" width="2" height="1"/><rect x="213" y="524" width="5" height="1"/><rect x="218" y="523" width="6" height="1"/><rect x="224" y="522" width="3" height="1"/><rect x="227" y="521" width="2" height="1"/><rect x="229" y="520" width="5" height="1"/><rect x="234" y="519" width="3" height="1"/><rect x="237" y="518" width="5" height="1"/><rect x="242" y="517" width="3" height="1"/><rect x="245" y="518" width="3" height="1"/><rect x="248" y="519" width="1" height="1"/><rect x="249" y="520" width="2" height="1"/><rect x="251" y="521" width="1" height="1"/><rect x="252" y="522" width="2" height="1"/><rect x="254" y="523" width="1" height="1"/><rect x="255" y="524" width="1" height="1"/><rect x="256" y="525" width="1" height="1"/><rect x="257" y="526" width="2" height="1"/><rect x="259" y="527" width="1" height="1"/><rect x="260" y="528" width="3" height="1"/><rect x="263" y="529" width="2" height="1"/><rect x="265" y="530" width="8" height="1"/><rect x="273" y="529" width="1" height="1"/><rect x="274" y="528" width="4" height="1"/><rect x="278" y="527" width="3" height="1"/><rect x="281" y="526" width="9" height="1"/><rect x="290" y="527" width="14" height="1"/><rect x="304" y="526" width="3" height="1"/><rect x="307" y="525" width="18" height="1"/><rect x="325" y="526" width="5" height="1"/><rect x="330" y="525" width="3" height="1"/><rect x="333" y="524" width="4" height="1"/><rect x="337" y="523" width="1" height="1"/><rect x="338" y="522" width="2" height="1"/><rect x="340" y="521" width="1" height="1"/><rect x="341" y="520" width="2" height="1"/><rect x="343" y="519" width="1" height="1"/><rect x="344" y="518" width="3" height="1"/><rect x="347" y="517" width="1" height="1"/><rect x="348" y="516" width="3" height="1"/><rect x="351" y="515" width="2" height="1"/><rect x="353" y="514" width="17" height="1"/><rect x="370" y="513" width="14" height="1"/><rect x="384" y="512" width="3" height="1"/><rect x="387" y="511" width="1" height="1"/><rect x="388" y="510" width="1" height="1"/><rect x="389" y="509" width="1" height="1"/><rect x="390" y="508" width="1" height="1"/><rect x="391" y="507" width="1" height="1"/><rect x="392" y="506" width="1" height="1"/><rect x="393" y="505" width="1" height="1"/><rect x="394" y="504" width="1" height="1"/><rect x="395" y="503" width="1" height="1"/><rect x="396" y="502" width="1" height="1"/><rect x="397" y="501" width="1" height="1"/><rect x="398" y="500" width="1" height="1"/><rect x="399" y="499" width="1" height="1"/><rect x="400" y="497" width="1" height="2"/><rect x="401" y="496" width="1" height="1"/><rect x="402" y="495" width="1" height="1"/><rect x="403" y="494" width="1" height="1"/><rect x="404" y="493" width="1" height="1"/><rect x="405" y="492" width="2" height="1"/><rect x="407" y="491" width="1" height="1"/><rect x="408" y="490" width="3" height="1"/><rect x="411" y="489" width="2" height="1"/><rect x="413" y="488" width="9" height="1"/><rect x="422" y="489" width="2" height="1"/><rect x="424" y="490" width="3" height="1"/><rect x="427" y="491" width="2" height="1"/><rect x="429" y="492" width="4" height="1"/><rect x="433" y="493" width="1" height="1"/><rect x="434" y="494" width="4" height="1"/><rect x="438" y="495" width="2" height="1"/><rect x="440" y="494" width="3" height="1"/><rect x="443" y="493" width="1" height="1"/><rect x="444" y="492" width="2" height="1"/><rect x="446" y="491" width="1" height="1"/><rect x="447" y="490" width="1" height="1"/><rect x="448" y="489" width="1" height="1"/><rect x="449" y="488" width="2" height="1"/><rect x="451" y="487" width="1" height="1"/><rect x="452" y="486" width="2" height="1"/><rect x="454" y="485" width="1" height="1"/><rect x="455" y="484" width="2" height="1"/><rect x="457" y="483" width="1" height="1"/><rect x="458" y="482" width="11" height="1"/><rect x="469" y="483" width="1" height="1"/><rect x="470" y="484" width="3" height="1"/><rect x="473" y="485" width="1" height="1"/><rect x="474" y="486" width="3" height="1"/><rect x="477" y="487" width="1" height="1"/><rect x="478" y="488" width="2" height="1"/><rect x="480" y="489" width="1" height="1"/><rect x="481" y="490" width="2" height="1"/><rect x="483" y="491" width="1" height="1"/><rect x="484" y="492" width="3" height="1"/><rect x="487" y="493" width="1" height="1"/><rect x="488" y="494" width="2" height="1"/><rect x="490" y="495" width="1" height="1"/><rect x="491" y="496" width="1" height="1"/><rect x="492" y="497" width="1" height="1"/><rect x="493" y="498" width="2" height="1"/><rect x="495" y="499" width="2" height="1"/><rect x="497" y="500" width="3" height="1"/><rect x="500" y="501" width="1" height="1"/><rect x="501" y="502" width="2" height="1"/><rect x="503" y="503" width="1" height="1"/><rect x="504" y="504" width="3" height="1"/><rect x="507" y="505" width="2" height="1"/><rect x="509" y="506" width="4" height="1"/><rect x="513" y="507" width="1" height="1"/><rect x="514" y="508" width="2" height="1"/><rect x="516" y="509" width="1" height="1"/><rect x="517" y="510" width="2" height="1"/><rect x="519" y="511" width="1" height="1"/><rect x="520" y="512" width="2" height="1"/><rect x="522" y="513" width="1" height="1"/><rect x="523" y="514" width="2" height="1"/><rect x="525" y="515" width="1" height="1"/><rect x="526" y="516" width="2" height="1"/><rect x="528" y="517" width="1" height="1"/><rect x="529" y="518" width="1" height="1"/><rect x="530" y="519" width="1" height="1"/><rect x="531" y="520" width="1" height="1"/><rect x="532" y="521" width="1" height="1"/><rect x="533" y="522" width="2" height="1"/><rect x="535" y="523" width="1" height="1"/><rect x="536" y="524" width="2" height="1"/><rect x="538" y="525" width="1" height="1"/><rect x="539" y="526" width="1" height="1"/><rect x="540" y="527" width="1" height="1"/><rect x="541" y="528" width="1" height="1"/><rect x="542" y="529" width="1" height="1"/><rect x="543" y="530" width="1" height="1"/><rect x="544" y="531" width="1" height="1"/><rect x="545" y="532" width="1" height="1"/><rect x="546" y="533" width="1" height="1"/><rect x="547" y="534" width="1" height="1"/><rect x="548" y="535" width="1" height="1"/><rect x="549" y="536" width="1" height="1"/><rect x="550" y="537" width="1" height="1"/><rect x="551" y="538" width="1" height="1"/><rect x="552" y="539" width="1" height="1"/><rect x="553" y="540" width="2" height="1"/><rect x="555" y="541" width="1" height="1"/><rect x="556" y="542" width="3" height="1"/><rect x="559" y="543" width="1" height="1"/><rect x="560" y="544" width="1" height="1"/><rect x="561" y="545" width="1" height="1"/><rect x="562" y="546" width="1" height="1"/><rect x="563" y="547" width="1" height="1"/><rect x="564" y="548" width="3" height="1"/><rect x="567" y="549" width="2" height="1"/><rect x="569" y="550" width="5" height="1"/><rect x="574" y="551" width="2" height="1"/><rect x="576" y="552" width="3" height="1"/><rect x="579" y="553" width="18" height="1"/><rect x="597" y="552" width="5" height="1"/><rect x="602" y="551" width="7" height="1"/><rect x="609" y="550" width="9" height="1"/><rect x="618" y="549" width="3" height="1"/><rect x="621" y="548" width="5" height="1"/><rect x="626" y="547" width="11" height="1"/><rect x="637" y="548" width="5" height="1"/><rect x="642" y="549" width="2" height="1"/><rect x="644" y="550" width="3" height="1"/><rect x="647" y="551" width="9" height="1"/><rect x="656" y="550" width="3" height="1"/><rect x="659" y="549" width="2" height="1"/><rect x="661" y="548" width="13" height="1"/><rect x="674" y="549" width="2" height="1"/><rect x="676" y="550" width="3" height="1"/><rect x="679" y="551" width="1" height="1"/><rect x="680" y="552" width="3" height="1"/><rect x="683" y="553" width="1" height="1"/><rect x="684" y="554" width="3" height="1"/><rect x="687" y="555" width="2" height="1"/><rect x="689" y="556" width="5" height="1"/><rect x="694" y="557" width="3" height="1"/><rect x="697" y="556" width="5" height="1"/><rect x="702" y="555" width="2" height="1"/><rect x="704" y="554" width="3" height="1"/><rect x="707" y="553" width="1" height="1"/><rect x="708" y="552" width="3" height="1"/><rect x="711" y="551" width="2" height="1"/><rect x="713" y="550" width="17" height="1"/><rect x="730" y="551" width="11" height="1"/><rect x="741" y="550" width="5" height="1"/><rect x="746" y="549" width="7" height="1"/><rect x="753" y="548" width="5" height="1"/><rect x="758" y="547" width="2" height="1"/><rect x="760" y="546" width="3" height="1"/><rect x="763" y="545" width="1" height="1"/><rect x="764" y="544" width="3" height="1"/><rect x="767" y="543" width="1" height="1"/><rect x="768" y="542" width="3" height="1"/><rect x="771" y="541" width="1" height="1"/><rect x="772" y="540" width="2" height="1"/><rect x="774" y="539" width="1" height="1"/><rect x="775" y="538" width="1" height="1"/><rect x="776" y="537" width="1" height="1"/><rect x="777" y="536" width="2" height="1"/><rect x="779" y="535" width="1" height="1"/><rect x="780" y="534" width="2" height="1"/><rect x="782" y="533" width="1" height="1"/><rect x="783" y="532" width="1" height="1"/></g>
<rect x="3" y="26" width="872" height="1" fill="#FF0000"/>
<rect x="3" y="40" width="872" height="1" fill="#FF0000"/>
<rect x="3" y="114" width="872" height="1" fill="#FF0000"/>
<rect x="3" y="147" width="872" height="1" fill="#FF0000"/>
<rect x="3" y="189" width="872" height="1" fill="#FF0000"/>
<rect x="3" y="228" width="872" height="1" fill="#FF0000"/>
<rect x="3" y="248" width="872" height="1" fill="#FF0000"/>
<rect x="3" y="295" width="872" height="1" fill="#FF0000"/>
<rect x="3" y="425" width="872" height="1" fill="#FF0000"/>
<rect x="3" y="459" width="872" height="1" fill="#FF0000"/>
<g fill="#FF0000" clip-path="url(#c)"><rect x="3" y="28" width="2" height="2"/><rect x="4" y="29" width="3" height="2"/><rect x="6" y="30" width="3" height="2"/><rect x="8" y="31" width="3" height="2"/><rect x="10" y="32" width="3" height="2"/><rect x="12" y="33" width="3" height="2"/><rect x="14" y="34" width="3" height="2"/><rect x="16" y="35" width="3" height="2"/><rect x="18" y="36" width="3" height="2"/><rect x="20" y="37" width="3" height="2"/><rect x="22" y="38" width="3" height="2"/><rect x="24" y="39" width="4" height="2"/><rect x="27" y="40" width="3" height="2"/><rect x="29" y="41" width="4" height="2"/><rect x="32" y="42" width="3" height="2"/><rect x="34" y="43" width="3" height="2"/><rect x="36" y="44" width="4" height="2"/><rect x="39" y="45" width="3" height="2"/><rect x="41" y="46" width="4" height="2"/><rect x="44" y="47" width="3" height="2"/><rect x="46" y="48" width="4" height="2"/><rect x="49" y="49" width="3" height="2"/><rect x="51" y="50" width="3" height="2"/><rect x="53" y="51" width="3" height="2"/><rect x="55" y="52" width="3" height="2"/><rect x="57" y="53" width="3" height="2"/><rect x="59" y="54" width="3" height="2"/><rect x="61" y="55" width="3" height="2"/><rect x="63" y="56" width="3" height="2"/><rect x="65" y="57" width="3" height="2"/><rect x="67" y="58" width="3" height="2"/><rect x="69" y="59" width="3" height="2"/><rect x="71" y="60" width="3" height="2"/><rect x="73" y="61" width="3" height="2"/><rect x="75" y="62" width="3" height="2"/><rect x="77" y="63" width="2" height="2"/><rect x="78" y="64" width="3" height="2"/><rect x="80" y="65" width="2" height="2"/><rect x="81" y="66" width="4" height="2"/><rect x="84" y="67" width="3" height="2"/><rect x="86" y="68" width="4" height="2"/><rect x="89" y="69" width="4" height="2"/><rect x="92" y="70" width="3" height="2"/><rect x="94" y="71" width="4" height="2"/><rect x="97" y="72" width="3" height="2"/><rect x="99" y="73" width="4" height="2"/><rect x="102" y="74" width="3" height="2"/><rect x="104" y="75" width="4" height="2"/><rect x="107" y="76" width="3" height="2"/><rect x="109" y="77" width="4" height="2"/><rect x="112" y="78" width="4" height="2"/><rect x="115" y="79" width="3" height="2"/><rect x="117" y="80" width="4" height="2"/><rect x="120" y="81" width="3" height="2"/><rect x="122" y="82" width="4" height="2"/><rect x="125" y="83" width="3" height="2"/><rect x="127" y="84" width="3" height="2"/><rect x="129" y="85" width="4" height="2"/><rect x="132" y="86" width="3" height="2"/><rect x="134" y="87" width="3" height="2"/><rect x="136" y="88" width="4" height="2"/><rect x="139" y="89" width="3" height="2"/><rect x="141" y="90" width="3" height="2"/><rect x="143" y="91" width="4" height="2"/><rect x="146" y="92" width="3" height="2"/><rect x="148" y="93" width="3" height="2"/><rect x="150" y="94" width="2" height="2"/><rect x="151" y="95" width="3" height="2"/><rect x="153" y="96" width="3" height="2"/><rect x="155" y="97" width="3" height="2"/><rect x="157" y="98" width="2" height="2"/><rect x="158" y="99" width="3" height="2"/><rect x="160" y="100" width="2" height="2"/><rect x="161" y="101" width="3" height="2"/><rect x="163" y="102" width="3" height="2"/><rect x="165" y="103" width="2" height="2"/><rect x="166" y="104" width="3" height="2"/><rect x="168" y="105" width="3" height="2"/><rect x="170" y="106" width="2" height="2"/><rect x="171" y="107" width="3" height="2"/><rect x="173" y="108" width="3" height="2"/><rect x="175" y="109" width="3" height="2"/><rect x="177" y="110" width="3" height="2"/><rect x="179" y="111" width="2" height="2"/><rect x="180" y="112" width="3" height="2"/><rect x="182" y="113" width="3" height="2"/><rect x="184" y="114" width="3" height="2"/><rect x="186" y="115" width="4" height="2"/><rect x="189" y="116" width="3" height="2"/><rect x="191" y="117" width="3" height="2"/><rect x="193" y="118" width="3" height="2"/><rect x="195" y="119" width="3" height="2"/><rect x="197" y="120" width="3" height="2"/><rect x="199" y="121" width="3" height="2"/><rect x="201" y="122" width="2" height="2"/><rect x="202" y="123" width="3" height="2"/><rect x="204" y="124" width="3" height="2"/><rect x="206" y="125" width="3" height="2"/><rect x="208" y="126" width="3" height="2"/><rect x="210" y="127" width="3" height="2"/><rect x="212" y="128" width="2" height="2"/><rect x="213" y="129" width="3" height="2"/><rect x="215" y="130" width="3" height="2"/><rect x="217" y="131" width="3" height="2"/><rect x="219" y="132" width="4" height="2"/><rect x="222" y="133" width="3" height="2"/><rect x="224" y="134" width="3" height="2"/><rect x="226" y="135" width="3" height="2"/><rect x="228" y="136" width="3" height="2"/><rect x="230" y="137" width="2" height="2"/><rect x="231" y="138" width="3" height="2"/><rect x="233" y="139" width="3" height="2"/><rect x="235" y="140" width="2" height="2"/><rect x="236" y="141" width="3" height="2"/><rect x="238" y="142" width="4" height="2"/><rect x="241" y="143" width="3" height="2"/><rect x="243" y="144" width="3" height="2"/><rect x="245" y="145" width="3" height="2"/><rect x="247" y="146" width="3" height="2"/><rect x="249" y="147" width="3" height="2"/><rect x="251" y="148" width="3" height="2"/><rect x="253" y="149" width="3" height="2"/><rect x="255" y="150" width="3" height="2"/><rect x="257" y="151" width="3" height="2"/><rect x="259" y="152" width="3" height="2"/><rect x="261" y="153" width="3" height="2"/><rect x="263" y="154" width="3" height="2"/><rect x="265" y="155" width="4" height="2"/><rect x="268" y="156" width="3" height="2"/><rect x="270" y="157" width="3" height="2"/><rect x="272" y="158" width="3" height="2"/><rect x="274" y="159" width="4" height="2"/><rect x="277" y="160" width="4" height="2"/><rect x="280" y="161" width="4" height="2"/><rect x="283" y="162" width="3" height="2"/><rect x="285" y="163" width="3" height="2"/><rect x="287" y="164" width="4" height="2"/><rect x="290" y="165" width="3" height="2"/><rect x="292" y="166" width="3" height="2"/><rect x="294" y="167" width="3" height="2"/><rect x="296" y="168" width="3" height="2"/><rect x="298" y="169" width="2" height="2"/><rect x="299" y="170" width="3" height="2"/><rect x="301" y="171" width="3" height="2"/><rect x="303" y="172" width="4" height="2"/><rect x="306" y="173" width="3" height="2"/><rect x="308" y="174" width="3" height="2"/><rect x="310" y="175" width="3" height="2"/><rect x="312" y="176" width="3" height="2"/><rect x="314" y="177" width="3" height="2"/><rect x="316" y="178" width="2" height="2"/><rect x="317" y="179" width="3" height="2"/><rect x="319" y="180" width="3" height="2"/><rect x="321" y="181" width="3" height="2"/><rect x="323" y="182" width="3" height="2"/><rect x="325" y="183" width="3" height="2"/><rect x="327" y="184" width="6" height="2"/><rect x="332" y="185" width="5" height="2"/><rect x="336" y="186" width="3" height="2"/><rect x="338" y="187" width="3" height="2"/><rect x="340" y="188" width="4" height="2"/><rect x="343" y="189" width="7" height="2"/><rect x="349" y="190" width="5" height="2"/><rect x="353" y="191" width="3" height="2"/><rect x="355" y="192" width="4" height="2"/><rect x="358" y="193" width="4" height="2"/><rect x="361" y="194" width="5" height="2"/><rect x="365" y="195" width="5" height="2"/><rect x="369" y="196" width="5" height="2"/><rect x="373" y="197" width="5" height="2"/><rect x="377" y="198" width="6" height="2"/><rect x="382" y="199" width="8" height="2"/><rect x="389" y="200" width="9" height="2"/><rect x="397" y="201" width="12" height="2"/><rect x="408" y="202" width="14" height="2"/><rect x="421" y="203" width="12" height="2"/><rect x="432" y="204" width="37" height="2"/><rect x="468" y="205" width="16" height="2"/><rect x="483" y="206" width="14" height="2"/><rect x="496" y="207" width="8" height="2"/><rect x="503" y="208" width="10" height="2"/><rect x="512" y="209" width="5" height="2"/><rect x="516" y="210" width="6" height="2"/><rect x="521" y="211" width="4" height="2"/><rect x="524" y="212" width="5" height="2"/><rect x="528" y="213" width="4" height="2"/><rect x="531" y="214" width="4" height="2"/><rect x="534" y="215" width="5" height="2"/><rect x="538" y="216" width="3" height="2"/><rect x="540" y="217" width="4" height="2"/><rect x="543" y="218" width="5" height="2"/><rect x="547" y="219" width="6" height="2"/><rect x="552" y="220" width="5" height="2"/><rect x="556" y="221" width="6" height="2"/><rect x="561" y="222" width="5" height="2"/><rect x="565" y="223" width="5" height="2"/><rect x="569" y="224" width="4" height="2"/><rect x="572" y="225" width="5" height="2"/><rect x="576" y="226" width="4" height="2"/><rect x="579" y="227" width="5" height="2"/><rect x="583" y="228" width="4" height="2"/><rect x="586" y="229" width="4" height="2"/><rect x="589" y="230" width="5" height="2"/><rect x="593" y="231" width="5" height="2"/><rect x="597" y="232" width="3" height="2"/><rect x="599" y="233" width="4" height="2"/><rect x="602" y="234" width="4" height="2"/><rect x="605" y="235" width="4" height="2"/><rect x="608" y="236" width="5" height="2"/><rect x="612" y="237" width="4" height="2"/><rect x="615" y="238" width="3" height="2"/><rect x="617" y="239" width="3" height="2"/><rect x="619" y="240" width="4" height="2"/><rect x="622" y="241" width="4" height="2"/><rect x="625" y="242" width="4" height="2"/><rect x="628" y="243" width="4" height="2"/><rect x="631" y="244" width="4" height="2"/><rect x="634" y="245" width="4" height="2"/><rect x="637" y="246" width="3" height="2"/><rect x="639" y="247" width="3" height="2"/><rect x="641" y="248" width="3" height="2"/><rect x="643" y="249" width="3" height="2"/><rect x="645" y="250" width="4" height="2"/><rect x="648" y="251" width="3" height="2"/><rect x="650" y="252" width="4" height="2"/><rect x="653" y="253" width="3" height="2"/><rect x="655" y="254" width="3" height="2"/><rect x="657" y="255" width="3" height="2"/><rect x="659" y="256" width="3" height="2"/><rect x="661" y="257" width="5" height="2"/><rect x="665" y="258" width="3" height="2"/><rect x="667" y="259" width="3" height="2"/><rect x="669" y="260" width="3" height="2"/><rect x="671" y="261" width="4" height="2"/><rect x="674" y="262" width="2" height="2"/><rect x="675" y="263" width="3" height="2"/><rect x="677" y="264" width="4" height="2"/><rect x="680" y="265" width="3" height="2"/><rect x="682" y="266" width="4" height="2"/><rect x="685" y="267" width="3" height="2"/><rect x="687" y="268" width="4" height="2"/><rect x="690" y="269" width="4" height="2"/><rect x="693" y="270" width="3" height="2"/><rect x="695" y="271" width="4" height="2"/><rect x="698" y="272" width="3" height="2"/><rect x="700" y="273" width="5" height="2"/><rect x="704" y="274" width="5" height="2"/><rect x="708" y="275" width="3" height="2"/><rect x="710" y="276" width="4" height="2"/><rect x="713" y="277" width="4" height="2"/><rect x="716" y="278" width="5" height="2"/><rect x="720" y="279" width="5" height="2"/><rect x="724" y="280" width="6" height="2"/><rect x="729" y="281" width="5" height="2"/><rect x="733" y="282" width="5" height="2"/><rect x="737" y="283" width="5" height="2"/><rect x="741" y="284" width="5" height="2"/><rect x="745" y="285" width="5" height="2"/><rect x="749" y="286" width="8" height="2"/><rect x="756" y="287" width="4" height="2"/><rect x="759" y="288" width="5" height="2"/><rect x="763" y="289" width="22" height="2"/></g>
<rect x="2" y="2" width="874" height="1" fill="#000"/>
<rect x="2" y="471" width="874" height="1" fill="#000"/>
<rect x="2" y="2" width="1" height="470" fill="#000"/>
<rect x="875" y="2" width="1" height="470" fill="#000"/>
<rect x="2" y="473" width="874" height="1" fill="#000"/>
<rect x="2" y="569" width="875" height="1" fill="#000"/>
<rect x="2" y="473" width="1" height="97" fill="#000"/>
<rect x="875" y="473" width="1" height="97" fill="#000"/>
<rect x="876" y="6" width="2" height="1" fill="#000"/>
<text class="t" x="881.5" y="10" textLength="32.5" lengthAdjust="spacingAndGlyphs">154.965</text>
<rect x="876" y="39" width="2" height="1" fill="#000"/>
<rect x="876" y="72" width="2" height="1" fill="#000"/>
<text class="t" x="881.5" y="76" textLength="32.5" lengthAdjust="spacingAndGlyphs">154.380</text>
<rect x="876" y="105" width="2" height="1" fill="#000"/>
<text class="t" x="881.5" y="109" textLength="32.5" lengthAdjust="spacingAndGlyphs">154.085</text>
<rect x="876" y="138" width="2" height="1" fill="#000"/>
<text class="t" x="881.5" y="142" textLength="32.5" lengthAdjust="spacingAndGlyphs">153.790</text>
<rect x="876" y="171" width="2" height="1" fill="#000"/>
<text class="t" x="881.5" y="175" textLength="32.5" lengthAdjust="spacingAndGlyphs">153.495</text>
<rect x="876" y="204" width="2" height="1" fill="#000"/>
<text class="t" x="881.5" y="208" textLength="32.5" lengthAdjust="spacingAndGlyphs">153.200</text>
<rect x="876" y="237" width="2" height="1" fill="#000"/>
<text class="t" x="881.5" y="241" textLength="32.5" lengthAdjust="spacingAndGlyphs">152.910</text>
<rect x="876" y="270" width="2" height="1" fill="#000"/>
<text class="t" x="881.5" y="274" textLength="32.5" lengthAdjust="spacingAndGlyphs">152.615</text>
<rect x="876" y="303" width="2" height="1" fill="#000"/>
<text class="t" x="881.5" y="307" textLength="32.5" lengthAdjust="spacingAndGlyphs">152.320</text>
<rect x="876" y="336" width="2" height="1" fill="#000"/>
<text class="t" x="881.5" y="340" textLength="32.5" lengthAdjust="spacingAndGlyphs">152.025</text>
<rect x="876" y="369" width="2" height="1" fill="#000"/>
<text class="t" x="881.5" y="373" textLength="32.5" lengthAdjust="spacingAndGlyphs">151.730</text>
<rect x="876" y="402" width="2" height="1" fill="#000"/>
<text class="t" x="881.5" y="406" textLength="32.5" lengthAdjust="spacingAndGlyphs">151.440</text>
<rect x="876" y="435" width="2" height="1" fill="#000"/>
<text class="t" x="881.5" y="439" textLength="32.5" lengthAdjust="spacingAndGlyphs">151.145</text>
<rect x="876" y="468" width="2" height="1" fill="#000"/>
<text class="t" x="881.5" y="472" textLength="32.5" lengthAdjust="spacingAndGlyphs">150.850</text>
<rect x="878" y="20" width="39" height="11" fill="#FF0000"/>
<text class="t w" x="881.5" y="29" textLength="32.5" lengthAdjust="spacingAndGlyphs">154.793</text>
<rect x="878" y="34" width="39" height="11" fill="#FF0000"/>
<text class="t w" x="881.5" y="43" textLength="32.5" lengthAdjust="spacingAndGlyphs">154.661</text>
<rect x="878" y="108" width="39" height="11" fill="#FF0000"/>
<text class="t w" x="881.5" y="117" textLength="32.5" lengthAdjust="spacingAndGlyphs">154.010</text>
<rect x="878" y="141" width="39" height="11" fill="#FF0000"/>
<text class="t w" x="881.5" y="150" textLength="32.5" lengthAdjust="spacingAndGlyphs">153.711</text>
<rect x="878" y="183" width="39" height="11" fill="#FF0000"/>
<text class="t w" x="881.5" y="192" textLength="32.5" lengthAdjust="spacingAndGlyphs">153.341</text>
<rect x="878" y="222" width="39" height="11" fill="#FF0000"/>
<text class="t w" x="881.5" y="231" textLength="32.5" lengthAdjust="spacingAndGlyphs">152.989</text>
<rect x="878" y="242" width="39" height="11" fill="#FF0000"/>
<text class="t w" x="881.5" y="251" textLength="32.5" lengthAdjust="spacingAndGlyphs">152.813</text>
<rect x="878" y="289" width="39" height="11" fill="#FF0000"/>
<text class="t w" x="881.5" y="298" textLength="32.5" lengthAdjust="spacingAndGlyphs">152.394</text>
<rect x="878" y="419" width="39" height="11" fill="#FF0000"/>
<text class="t w" x="881.5" y="428" textLength="32.5" lengthAdjust="spacingAndGlyphs">151.239</text>
<rect x="878" y="453" width="39" height="11" fill="#FF0000"/>
<text class="t w" x="881.5" y="462" textLength="32.5" lengthAdjust="spacingAndGlyphs">150.931</text>
<rect x="878" y="316" width="39" height="11" fill="#000"/>
<text class="t w" x="881.5" y="325" textLength="32.5" lengthAdjust="spacingAndGlyphs">152.159</text>
<rect x="876" y="475" width="1" height="1" fill="#000"/>
<rect x="876" y="527" width="1" height="1" fill="#000"/>
<text class="t" x="879.5" y="484" textLength="37" lengthAdjust="spacingAndGlyphs">1.166426</text>
<text class="t" x="879" y="531" textLength="18" lengthAdjust="spacingAndGlyphs">0.00</text>
<text class="t" x="879" y="566" textLength="36.5" lengthAdjust="spacingAndGlyphs">-0.93538</text>
<rect x="3" y="570" width="1" height="3" fill="#000"/>
<text class="t" x="1.7" y="582" textLength="47.5" lengthAdjust="spacingAndGlyphs">6 Feb 2025</text>
<rect x="67" y="570" width="1" height="3" fill="#000"/>
<text class="t" x="65.7" y="582" textLength="50.5" lengthAdjust="spacingAndGlyphs">6 Feb 17:00</text>
<rect x="131" y="570" width="1" height="3" fill="#000"/>
<text class="t" x="129.7" y="582" textLength="50.5" lengthAdjust="spacingAndGlyphs">7 Feb 09:00</text>
<rect x="195" y="570" width="1" height="3" fill="#000"/>
<text class="t" x="193.7" y="582" textLength="55" lengthAdjust="spacingAndGlyphs">10 Feb 02:00</text>
<rect x="259" y="570" width="1" height="3" fill="#000"/>
<text class="t" x="257.7" y="582" textLength="55" lengthAdjust="spacingAndGlyphs">10 Feb 18:00</text>
<rect x="323" y="570" width="1" height="3" fill="#000"/>
<text class="t" x="321.7" y="582" textLength="55" lengthAdjust="spacingAndGlyphs">11 Feb 10:00</text>
<rect x="387" y="570" width="1" height="3" fill="#000"/>
<text class="t" x="385.7" y="582" textLength="55" lengthAdjust="spacingAndGlyphs">12 Feb 02:00</text>
<rect x="451" y="570" width="1" height="3" fill="#000"/>
<text class="t" x="449.7" y="582" textLength="55" lengthAdjust="spacingAndGlyphs">12 Feb 18:00</text>
<rect x="515" y="570" width="1" height="3" fill="#000"/>
<text class="t" x="513.7" y="582" textLength="55" lengthAdjust="spacingAndGlyphs">13 Feb 10:00</text>
<rect x="579" y="570" width="1" height="3" fill="#000"/>
<text class="t" x="577.7" y="582" textLength="55" lengthAdjust="spacingAndGlyphs">14 Feb 02:00</text>
<rect x="643" y="570" width="1" height="3" fill="#000"/>
<text class="t" x="641.7" y="582" textLength="55" lengthAdjust="spacingAndGlyphs">14 Feb 18:00</text>
<rect x="707" y="570" width="1" height="3" fill="#000"/>
<text class="t" x="705.7" y="582" textLength="55" lengthAdjust="spacingAndGlyphs">17 Feb 11:00</text>
<rect x="771" y="570" width="1" height="3" fill="#000"/>
<text class="t" x="769.7" y="582" textLength="55" lengthAdjust="spacingAndGlyphs">18 Feb 03:00</text>
<rect x="6" y="9" width="7" height="1" fill="#000"/>
<rect x="7" y="10" width="5" height="1" fill="#000"/>
<rect x="8" y="11" width="3" height="1" fill="#000"/>
<rect x="9" y="12" width="1" height="1" fill="#000"/>
<text class="t" y="14"><tspan x="17.7" textLength="50.8" lengthAdjust="spacingAndGlyphs">USDJPY,H1</tspan> <tspan x="75" textLength="32.5" lengthAdjust="spacingAndGlyphs">152.079</tspan> <tspan x="111.4" textLength="32.5" lengthAdjust="spacingAndGlyphs">152.195</tspan> <tspan x="147.4" textLength="32.5" lengthAdjust="spacingAndGlyphs">152.039</tspan> <tspan x="183.5" textLength="32.5" lengthAdjust="spacingAndGlyphs">152.159</tspan></text>
<text class="t" y="486"><tspan x="6.4" textLength="35" lengthAdjust="spacingAndGlyphs">MACD_</tspan><tspan x="41" textLength="19.3" lengthAdjust="spacingAndGlyphs">color</tspan><tspan x="59.8" textLength="31.3" lengthAdjust="spacingAndGlyphs">(5,34,5)</tspan> <tspan x="94" textLength="38.5" lengthAdjust="spacingAndGlyphs">0.000000</tspan> <tspan x="135" textLength="38" lengthAdjust="spacingAndGlyphs">0.000000</tspan> <tspan x="176.5" textLength="41.5" lengthAdjust="spacingAndGlyphs">-0.097840</tspan></text>
</svg>
</body></html>
